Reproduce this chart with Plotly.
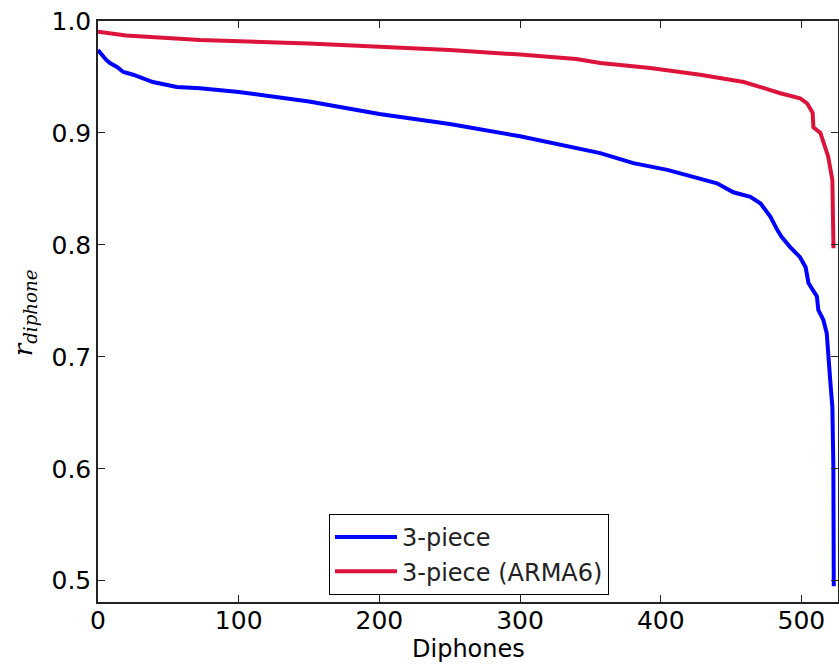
import plotly.graph_objects as go

# Blue: "3-piece"
blue_x = [0, 3.5, 6, 8.5, 13.5, 18, 25, 39, 56, 72.5, 100, 150, 200, 250, 300, 357, 380.5, 404.7, 426, 440,
          451.6, 463.7, 471, 478, 483, 486, 492, 499, 503, 505, 511, 512, 515.6, 518, 520.6, 522, 522.7, 523]
blue_y = [0.974, 0.968, 0.965, 0.9625, 0.959, 0.9545, 0.952, 0.9455, 0.941, 0.940, 0.9366, 0.928, 0.917, 0.908,
          0.897, 0.882, 0.873, 0.867, 0.860, 0.855, 0.847, 0.843, 0.837, 0.825, 0.813, 0.807, 0.798, 0.789,
          0.780, 0.766, 0.754, 0.742, 0.733, 0.721, 0.677, 0.655, 0.602, 0.495]

# Red: "3-piece (ARMA6)"
red_x = [0, 20, 72.5, 100, 150, 200, 250, 300, 340, 357, 392.6, 428, 459, 471, 485, 499, 504, 508, 508.5,
         513.5, 515.6, 519, 522, 522.8]
red_y = [0.9905, 0.987, 0.983, 0.982, 0.980, 0.977, 0.974, 0.970, 0.966, 0.9625, 0.958, 0.952, 0.9455,
         0.941, 0.9355, 0.931, 0.9265, 0.918, 0.905, 0.900, 0.891, 0.879, 0.858, 0.797]

series_names = ["3-piece", "3-piece (ARMA6)"]
x_ticks = [0, 100, 200, 300, 400, 500]
y_ticks = [0.5, 0.6, 0.7, 0.8, 0.9, 1.0]
y_tick_text = ["0.5", "0.6", "0.7", "0.8", "0.9", "1.0"]

fig = go.Figure()
fig.add_trace(go.Scatter(x=blue_x, y=blue_y, mode="lines", name=series_names[0],
                         line=dict(color="#0000ff", width=4)))
fig.add_trace(go.Scatter(x=red_x, y=red_y, mode="lines", name=series_names[1],
                         line=dict(color="#dc143c", width=4)))

axis_common = dict(showline=True, linecolor="#222222", linewidth=1.5, mirror="ticks",
                   ticks="inside", ticklen=7, tickwidth=1, tickcolor="#222222",
                   showgrid=False, zeroline=False, automargin=False, ticklabeloverflow="allow",
                   tickfont=dict(family="DejaVu Sans", size=25, color="black"))

W, H = 839, 667
PL, PR, PT, PB = 98, 838, 21, 602
pw, ph = PR - PL, PB - PT

fig.update_layout(
    width=W, height=H,
    margin=dict(l=PL, r=W - PR, t=PT, b=H - PB, autoexpand=False),
    paper_bgcolor="white", plot_bgcolor="white",
    showlegend=True,
    legend=dict(x=(329 - PL) / pw, y=(PB - 514) / ph, xanchor="left", yanchor="top",
                bordercolor="black", borderwidth=1, bgcolor="white", itemwidth=62,
                font=dict(family="DejaVu Sans", size=24, color="#222222")),
    xaxis=dict(range=[0, 526], tickvals=x_ticks, ticklabelstandoff=-5, **axis_common),
    yaxis=dict(range=[0.481, 1.0], tickvals=y_ticks, ticktext=y_tick_text, **axis_common),
    annotations=[
        dict(text="<i>r</i><sub><i>diphone</i></sub>", xref="paper", yref="paper",
             x=(24 - PL) / pw, y=0.497, xanchor="center", yanchor="middle",
             textangle=-90, showarrow=False,
             font=dict(family="DejaVu Serif", size=26, color="black")),
        dict(text="Diphones", xref="paper", yref="paper",
             x=0.5, y=-(649 - PB) / ph, xanchor="center", yanchor="middle",
             showarrow=False,
             font=dict(family="DejaVu Sans", size=24, color="black")),
    ],
)

fig.write_html("out.html", config={"displayModeBar": False},
               post_script="document.body.style.margin='0';document.body.style.overflow='hidden';")
